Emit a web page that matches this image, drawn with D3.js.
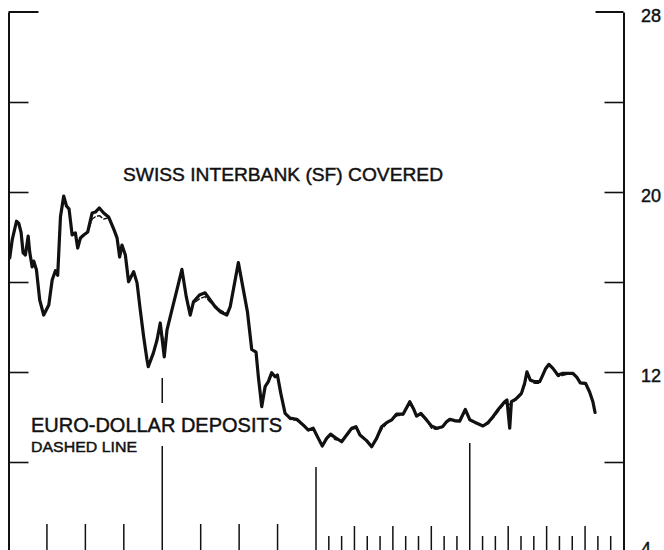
<!DOCTYPE html>
<html>
<head>
<meta charset="utf-8">
<script src="https://cdn.jsdelivr.net/npm/d3@7"></script>
<style>
  html, body { margin: 0; padding: 0; background: #fff; }
  svg { display: block; }
  text { font-family: "Liberation Sans", Arial, Helvetica, sans-serif; fill: #111; stroke: #111; stroke-width: 0.45; }
</style>
</head>
<body>
<svg id="chart" width="664" height="550"></svg>
<script>
// ---- data ----
const times = [
  1981.008,1981.024,1981.052,1981.067,1981.082,1981.095,1981.110,1981.128,1981.138,1981.154,
  1981.164,1981.182,1981.203,1981.229,1981.262,1981.284,1981.305,1981.320,1981.338,1981.359,
  1981.377,1981.394,1981.414,1981.435,1981.450,1981.468,1981.489,1981.515,1981.544,1981.565,
  1981.591,1981.619,1981.651,1981.684,1981.706,1981.723,1981.738,1981.760,1981.781,1981.814,
  1981.836,1981.857,1981.879,1981.901,1981.909,1981.942,1981.966,1981.987,
  1982.013,1982.031,1982.063,1982.095,1982.128,1982.156,1982.182,1982.203,1982.242,1982.279,
  1982.312,1982.344,1982.377,1982.420,1982.442,1982.495,1982.528,1982.554,1982.582,1982.610,
  1982.625,1982.647,1982.669,1982.690,1982.712,1982.734,1982.749,1982.771,1982.799,1982.831,
  1982.875,1982.918,1982.950,1982.982,
  1983.015,1983.041,1983.069,1983.095,1983.123,1983.167,1983.199,1983.232,1983.260,1983.286,
  1983.329,1983.362,1983.394,1983.427,1983.459,1983.492,1983.524,1983.567,1983.610,1983.636,
  1983.654,1983.682,1983.719,1983.751,1983.784,1983.823,1983.849,1983.870,1983.903,1983.935,
  1983.971,
  1984.000,1984.032,1984.086,1984.119,1984.151,1984.190,1984.227,1984.242,1984.260,1984.271,
  1984.299,1984.336,1984.357,1984.372,1984.394,1984.422,1984.455,1984.472,1984.494,1984.515,
  1984.541,1984.573,1984.606,1984.638,1984.671,1984.697,1984.719,1984.753,1984.779,1984.801,
  1984.815
];
const swissCovered = [
  17.07,17.87,18.70,18.60,18.20,17.30,17.20,18.04,17.33,16.67,
  16.93,16.53,15.20,14.53,14.98,16.09,16.50,16.30,18.90,19.82,
  19.38,19.24,18.09,18.18,17.51,17.96,18.09,18.22,19.07,19.11,
  19.29,19.07,18.89,18.36,17.96,17.11,17.64,17.20,16.01,16.46,
  15.96,14.76,13.57,12.53,12.24,12.84,13.42,14.18,
  12.67,13.87,14.76,15.64,16.56,15.35,14.53,15.12,15.42,15.52,
  15.20,14.90,14.68,14.53,14.90,16.86,15.64,14.68,13.00,12.88,
  11.79,10.46,11.35,11.57,11.97,11.79,11.87,11.05,10.16,9.95,
  9.90,9.64,9.42,9.50,
  9.05,8.71,9.05,9.24,9.10,8.90,9.20,9.50,9.57,9.20,
  8.95,8.68,9.05,9.57,9.75,9.87,10.13,10.13,10.68,10.34,
  10.04,10.16,9.87,9.60,9.50,9.57,9.79,9.90,9.84,9.82,
  10.34,
  9.88,9.77,9.60,9.75,10.01,10.38,10.68,10.76,9.50,10.68,
  10.79,11.05,11.50,12.01,11.64,11.57,11.57,11.82,12.16,12.34,
  12.16,11.87,11.94,11.94,11.94,11.76,11.52,11.50,11.12,10.68,
  10.20
];
const euroDollar = [
  17.05,17.80,18.65,18.60,18.15,17.30,17.25,18.00,17.35,16.70,
  16.90,16.55,15.25,14.55,15.00,16.05,16.45,16.30,18.85,19.75,
  19.35,19.20,18.10,18.15,17.55,17.90,18.05,18.20,18.80,18.90,
  18.95,18.80,18.85,18.30,17.95,17.15,17.60,17.20,16.05,16.40,
  15.95,14.80,13.60,12.55,12.30,12.85,13.40,14.10,
  13.20,13.85,14.75,15.60,16.50,15.40,14.60,15.05,15.25,15.35,
  15.10,14.95,14.75,14.60,14.95,16.80,15.60,14.70,13.05,12.85,
  11.85,10.55,11.30,11.55,11.90,11.80,11.85,11.10,10.20,9.90,
  9.85,9.60,9.40,9.45,
  9.05,8.75,9.00,9.20,9.00,8.95,9.15,9.45,9.50,9.20,
  8.95,8.70,9.00,9.45,9.70,9.85,10.05,10.10,10.60,10.30,
  10.05,10.10,9.85,9.50,9.45,9.55,9.75,9.85,9.80,9.80,
  10.25,
  9.85,9.75,9.60,9.70,9.95,10.30,10.60,10.60,10.55,10.65,
  10.75,11.00,11.40,11.90,11.60,11.50,11.50,11.80,12.10,12.30,
  12.15,11.80,11.85,11.90,11.90,11.75,11.50,11.45,11.10,10.65,
  10.20
];
const yTicks = [28, 24, 20, 16, 12, 8, 4];
const yLabels = ["28", "20", "12", "4"];
const yearLines = [1982, 1983, 1984];
const quarterTicks = [1981.25, 1981.5, 1981.75, 1982.25, 1982.5, 1982.75];
const monthlyYears = [1983, 1984];
const labelSwiss = "SWISS INTERBANK (SF) COVERED";
const labelEuro = "EURO-DOLLAR DEPOSITS";
const labelEuroSub = "DASHED LINE";

// ---- drawing ----
const svg = d3.select("#chart");
const ink = "#111";
const x = d3.scaleLinear().domain([1981, 1985]).range([8.5, 623.5]);
const y = d3.scaleLinear().domain([4, 28]).range([552, 12]);

// left axis (ticks pointing inward)
const leftAxis = d3.axisRight(y).tickValues(yTicks.filter(v => v !== 28 && v !== 4))
  .tickSize(20).tickSizeOuter(0).tickFormat("");
const gl = svg.append("g").attr("transform", `translate(${x(1981)},0)`).call(leftAxis);
// right axis
const rightAxis = d3.axisLeft(y).tickValues(yTicks.filter(v => v !== 28 && v !== 4))
  .tickSize(19).tickSizeOuter(0).tickFormat("");
const gr = svg.append("g").attr("transform", `translate(${x(1985)},0)`).call(rightAxis);
[gl, gr].forEach(g => {
  g.select(".domain").attr("stroke", ink).attr("stroke-width", 2);
  g.selectAll(".tick line").attr("stroke", ink).attr("stroke-width", 1.6);
});
// top (28) ticks are longer
svg.append("line").attr("x1", x(1981)).attr("x2", x(1981) + 30)
  .attr("y1", y(28)).attr("y2", y(28)).attr("stroke", ink).attr("stroke-width", 2);
svg.append("line").attr("x1", x(1985) - 28).attr("x2", x(1985))
  .attr("y1", y(28)).attr("y2", y(28)).attr("stroke", ink).attr("stroke-width", 2);

// right labels (the bottom "4" sits a little higher, as in the original)
svg.append("g").selectAll("text").data(yLabels).join("text")
  .attr("x", 641).attr("y", d => y(+d) + (d === "4" ? 3 : 10))
  .attr("font-size", 18).text(d => d);

// bottom ticks
const bottom = 550;
const tickG = svg.append("g").attr("stroke", ink).attr("stroke-width", 1.5);
tickG.selectAll("line.q").data(quarterTicks).join("line").attr("class", "q")
  .attr("x1", d => x(d)).attr("x2", d => x(d)).attr("y1", bottom - 26).attr("y2", bottom);
const months = [];
monthlyYears.forEach(yr => { for (let m = 1; m < 12; m++) months.push({ t: yr + m / 12, q: m % 3 === 0 }); });
tickG.selectAll("line.m").data(months).join("line").attr("class", "m")
  .attr("x1", d => x(d.t)).attr("x2", d => x(d.t))
  .attr("y1", d => d.q ? bottom - 24 : bottom - 14).attr("y2", bottom);
// long year lines
const yearSegs = [
  { t: yearLines[0], y1: 378, y2: 403 },
  { t: yearLines[0], y1: 446, y2: bottom },
  { t: yearLines[1], y1: 467, y2: bottom },
  { t: yearLines[2], y1: 443, y2: bottom }
];
tickG.selectAll("line.yr").data(yearSegs).join("line").attr("class", "yr")
  .attr("x1", d => x(d.t)).attr("x2", d => x(d.t)).attr("y1", d => d.y1).attr("y2", d => d.y2);

// series
const line = d3.line().x(d => x(d[0])).y(d => y(d[1])).curve(d3.curveLinear);
svg.append("path").datum(times.map((t, i) => [t, euroDollar[i]]))
  .attr("d", line).attr("fill", "none").attr("stroke", ink)
  .attr("stroke-width", 1.4).attr("stroke-dasharray", "6,1.5").attr("stroke-linejoin", "round");
svg.append("path").datum(times.map((t, i) => [t, swissCovered[i]]))
  .attr("d", line).attr("fill", "none").attr("stroke", ink)
  .attr("stroke-width", 3.2).attr("stroke-linejoin", "round").attr("stroke-linecap", "round");

// labels
svg.append("text").attr("x", 123).attr("y", 181).attr("font-size", 19)
  .attr("textLength", 320).attr("lengthAdjust", "spacingAndGlyphs").text(labelSwiss);
svg.append("text").attr("x", 31).attr("y", 432).attr("font-size", 20)
  .attr("textLength", 251).attr("lengthAdjust", "spacingAndGlyphs").text(labelEuro);
svg.append("text").attr("x", 31).attr("y", 452).attr("font-size", 15.5)
  .attr("textLength", 106).attr("lengthAdjust", "spacingAndGlyphs").text(labelEuroSub);
</script>
</body>
</html>
